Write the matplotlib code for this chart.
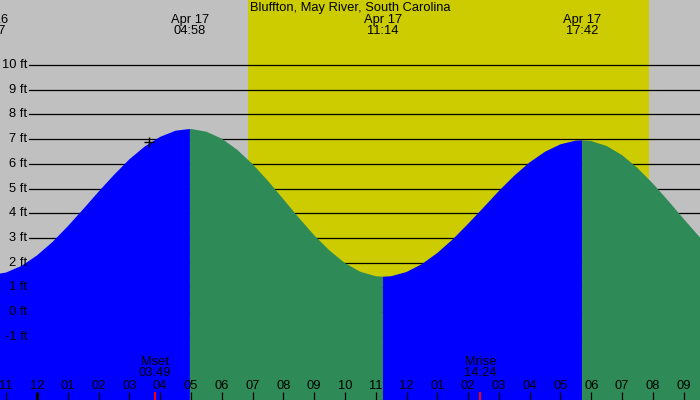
import matplotlib
matplotlib.use("Agg")
import matplotlib.pyplot as plt
import matplotlib.transforms as mtransforms

plt.rcParams['font.family'] = ['Liberation Sans', 'DejaVu Sans']
FS = 9.3

title = "Bluffton, May River, South Carolina"

# tide height, hours from midnight Apr 17
tide_hours = [-1.55, -1.5, -1.0, -0.5, 0.0, 0.5, 1.0, 1.5, 2.0, 2.5, 3.0, 3.5, 4.0, 4.5, 4.967,
              5.0, 5.5, 6.0, 6.5, 7.0, 7.5, 8.0, 8.5, 9.0, 9.5, 10.0, 10.5, 11.0, 11.233,
              11.5, 12.0, 12.5, 13.0, 13.5, 14.0, 14.5, 15.0, 15.5, 16.0, 16.5, 17.0, 17.5, 17.7,
              18.0, 18.5, 19.0, 19.5, 20.0, 20.5, 21.0, 21.5, 22.0]
tide_ft = [1.50, 1.50, 1.60, 1.87, 2.29, 2.83, 3.47, 4.16, 4.87, 5.55, 6.18, 6.70, 7.09, 7.34, 7.41,
           7.41, 7.30, 7.02, 6.57, 5.99, 5.31, 4.57, 3.82, 3.11, 2.49, 1.98, 1.63, 1.45, 1.43,
           1.45, 1.62, 1.94, 2.39, 2.94, 3.57, 4.23, 4.90, 5.52, 6.06, 6.49, 6.79, 6.94, 6.95,
           6.92, 6.72, 6.35, 5.83, 5.20, 4.50, 3.77, 3.06, 2.41]

# high / low tides
extreme_hours = [-1.55, 4.967, 11.233, 17.7]
extreme_dates = ["Apr 16", "Apr 17", "Apr 17", "Apr 17"]
extreme_times = ["22:27", "04:58", "11:14", "17:42"]

sunrise, sunset = 6.85, 19.87

moon_hours = [3.817, 14.4]
moon_names = ["Mset", "Mrise"]
moon_times = ["03:49", "14:24"]

plus_hour, plus_ft = 3.63, 6.88

hour_ticks = list(range(-1, 22))
ft_levels = list(range(-1, 11))

GRAY = '#c0c0c0'
YELLOW = '#cccc00'
RISE = '#0000ff'
FALL = '#2e8b57'

fig = plt.figure(figsize=(7, 4), dpi=100)
fig.patch.set_facecolor(GRAY)
ax = fig.add_axes([0, 0, 1, 1])
ax.set_facecolor(GRAY)
ax.set_xlim(-1.2, 21.53)
ax.set_ylim(-3.56, 12.63)
ax.axis('off')

ax.axvspan(sunrise, sunset, color=YELLOW, zorder=0, lw=0)

for lv in ft_levels:
    ax.axhline(lv, xmin=29 / 700, xmax=1, color='black', lw=0.9, zorder=1)
    ax.text(-0.31, lv, f"{lv} ft", ha='right', va='center', fontsize=FS, zorder=4)

# fill each stretch between extremes, blue rising, green falling
bounds = extreme_hours + [tide_hours[-1]]
for i in range(len(bounds) - 1):
    xs = [t for t in tide_hours if bounds[i] <= t <= bounds[i + 1]]
    ys = [tide_ft[tide_hours.index(t)] for t in xs]
    col = RISE if i % 2 == 0 else FALL
    ax.fill_between(xs, ys, -10, color=col, lw=0, zorder=2)

ax.plot([plus_hour], [plus_ft], marker='+', color='black', ms=7, mew=1, zorder=3)

trans = mtransforms.blended_transform_factory(ax.transData, ax.transAxes)

def ypx(p):
    return 1 - p / 400

ax.text(0.5, ypx(7.5), title, transform=ax.transAxes, ha='center', va='center', fontsize=FS, zorder=4)
for t, d, tm in zip(extreme_hours, extreme_dates, extreme_times):
    ax.text(t, ypx(19.5), d, transform=trans, ha='center', va='center', fontsize=FS, zorder=4)
    ax.text(t, ypx(31.5), tm, transform=trans, ha='center', va='center', fontsize=FS, zorder=4)

for h in hour_ticks:
    lab = f"{(h % 12) if h % 12 else 12:02d}"
    ax.text(h, ypx(386), lab, transform=trans, ha='center', va='center', fontsize=FS, zorder=4)
    ax.plot([h, h], [0, 8 / 400], transform=trans, color='black',
            lw=2.2 if h == 0 else 0.9, solid_capstyle='butt', zorder=4)

for t, nm, tm in zip(moon_hours, moon_names, moon_times):
    ax.text(t, ypx(362), nm, transform=trans, ha='center', va='center', fontsize=FS, zorder=4)
    ax.text(t, ypx(373.5), tm, transform=trans, ha='center', va='center', fontsize=FS, zorder=4)
    ax.plot([t, t], [0, 8 / 400], transform=trans, color='red', lw=1.4,
            solid_capstyle='butt', zorder=4)

fig.savefig('out.png', dpi=100, facecolor=GRAY)
